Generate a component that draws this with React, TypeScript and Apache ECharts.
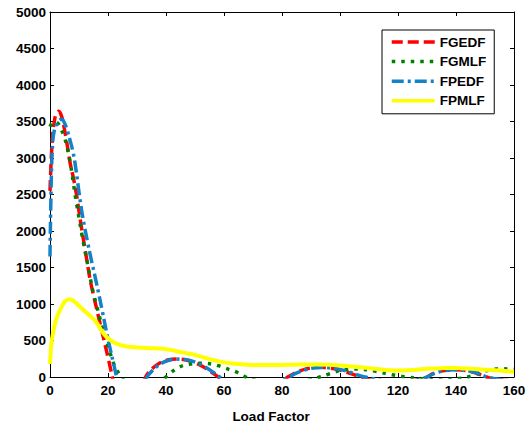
import React, { useEffect, useRef } from "react";
import * as echarts from "echarts";

const seriesNames = ["FGEDF", "FGMLF", "FPEDF", "FPMLF"];

const fgedfX = [0,0.5,1,1.5,2,3,4,5,6,7,8,9,10,11,12,13,14,16,18,20,21,22,24,28,31,33,34,36,38,40,42,44,46,48,50,52,54,56,58,60,70,80,82,84,86,88,90,92,94,96,98,100,102,104,106,108,118,128,130,132,134,136,138,140,142,144,146,148,150,152,160];
const fgedfY = [2550,3050,3350,3500,3590,3640,3570,3390,3160,2920,2740,2530,2270,2010,1770,1530,1300,950,610,270,90,-90,-400,-500,-250,0,60,140,195,228,242,245,240,222,195,158,112,58,0,-50,-150,-50,0,45,80,108,127,135,132,124,112,96,72,42,12,-20,-80,-30,0,45,72,88,97,100,96,84,64,38,10,-18,-60];

const fgmlfX = [0,0.5,1,1.5,2,3,4,5,6,7,8,9,10,11,12,13,14,15,16,18,20,22,24,25,27,33,38,40,42,44,46,48,50,52,54,56,58,60,62,64,66,67.5,70,80,90,93,96,98,100,102,104,106,108,110,112,114,116,118,120,122,123.5,126,135,141,144,146,148,150,152,154,156,158,160];
const fgmlfY = [3430,3470,3490,3500,3495,3460,3380,3280,3130,2930,2670,2410,2180,1950,1740,1540,1330,1140,990,690,430,180,30,-20,-150,-250,-40,0,70,125,158,176,186,188,185,175,155,128,100,73,35,0,-40,-100,-40,0,38,65,88,100,108,110,105,95,80,62,45,30,16,5,0,-15,-40,-20,0,25,55,80,100,110,112,110,106];

const fpedfX = [0,0.5,1,1.5,2,3,4,5,6,7,8,9,10,11,12,13,14,16,18,20,22,23,25,29,33.5,35,37,39,41,43,45,47,49,51,53,55,57,58.5,61,71,80,82.5,84,86,88,90,92,94,96,98,100,102,104,106,108.6,111,120,128,130,132,134,136,138,140,142,144,146,148,150.6,153,160];
const fpedfY = [1650,2800,3250,3380,3440,3510,3530,3480,3370,3230,3070,2830,2530,2260,2040,1840,1650,1290,910,520,170,0,-300,-500,0,75,150,200,230,243,245,238,218,188,148,100,45,0,-60,-150,-40,0,35,70,98,118,128,130,127,118,104,84,58,30,0,-20,-80,-25,0,40,68,86,96,100,96,86,68,42,0,-20,-60];

const fpmlfX = [0,0.3,0.6,1,1.5,2,3,4,5,6,6.5,7,8,9,10,12,14,16,18,20,22,24,26,28,30,34,38,40,42,44,48,52,56,60,64,68,72,76,80,84,88,92,96,100,104,108,112,116,120,124,128,132,136,140,144,148,152,156,160];
const fpmlfY = [180,380,500,590,690,770,880,960,1030,1058,1065,1062,1045,1012,975,900,830,750,620,530,475,440,420,410,403,395,390,382,368,350,320,280,235,200,180,168,164,163,165,168,172,172,168,158,143,130,112,97,88,92,105,115,122,122,115,105,95,85,72];

const xTicks = { min: 0, max: 160, interval: 20 };
const yTicks = { min: 0, max: 5000, interval: 500 };
const xTitle = "Load Factor";

const FONT = "'Liberation Sans', Arial, Helvetica, sans-serif";

function pairs(xs: number[], ys: number[]) {
  return xs.map((x, i) => [x, ys[i]]);
}

export default function App() {
  const ref = useRef<HTMLDivElement>(null);
  useEffect(() => {
    if (!ref.current) return;
    const chart = echarts.init(ref.current, null, { renderer: "svg" });
    const axisCommon = {
      type: "value",
      axisLine: { show: true, onZero: false, lineStyle: { color: "#000", width: 1 } },
      axisTick: { show: true, inside: true, length: 4, lineStyle: { color: "#000", width: 1 } },
      splitLine: { show: false },
    };
    const labelStyle = {
      color: "#000",
      fontWeight: "bold",
      fontSize: 13.5,
      fontFamily: FONT,
      formatter: (v: number) => String(v),
    };
    const lineSeries = (name: string, xs: number[], ys: number[], color: string, width: number, dash: any, z: number) => ({
      name,
      type: "line",
      data: pairs(xs, ys),
      showSymbol: false,
      symbol: "none",
      smooth: 0.4,
      clip: true,
      z,
      lineStyle: { color, width, type: dash, cap: "butt" },
      itemStyle: { color },
    });
    chart.setOption({
      animation: false,
      backgroundColor: "#fff",
      grid: { left: 50, right: 18, top: 12, bottom: 52, containLabel: false },
      xAxis: [
        { ...axisCommon, position: "bottom", ...xTicks, axisLabel: { ...labelStyle, margin: 6 } },
        { ...axisCommon, position: "top", ...xTicks, axisLabel: { show: false } },
      ],
      yAxis: [
        { ...axisCommon, position: "left", ...yTicks, axisLabel: { ...labelStyle, margin: 4 } },
        { ...axisCommon, position: "right", ...yTicks, axisLabel: { show: false } },
      ],
      legend: {
        orient: "vertical",
        left: 382,
        top: 30,
        itemWidth: 43,
        itemHeight: 14,
        itemGap: 5.6,
        padding: [5, 8, 6, 8],
        borderColor: "#000",
        borderWidth: 1,
        backgroundColor: "#fff",
        data: seriesNames,
        textStyle: { color: "#000", fontWeight: "bold", fontSize: 13.5, fontFamily: FONT },
        lineStyle: { width: 3.5 },
        itemStyle: { opacity: 0 },
      },
      graphic: [
        {
          type: "text",
          x: 271,
          y: 416,
          style: {
            text: xTitle,
            fill: "#000",
            font: `bold 13.5px ${FONT}`,
            textAlign: "center",
            textVerticalAlign: "middle",
          },
        },
      ],
      series: [
        lineSeries(seriesNames[0], fgedfX, fgedfY, "#ff0000", 3.5, [11, 5], 2),
        lineSeries(seriesNames[1], fgmlfX, fgmlfY, "#008000", 3.5, [3.5, 6], 3),
        lineSeries(seriesNames[2], fpedfX, fpedfY, "#1482c8", 3.5, [12, 4, 3, 4], 4),
        lineSeries(seriesNames[3], fpmlfX, fpmlfY, "#ffff00", 4, "solid", 5),
      ],
    });
    return () => chart.dispose();
  }, []);
  return (
    <div
      ref={ref}
      style={{ position: "fixed", left: 0, top: 0, width: 532, height: 429, background: "#fff" }}
    />
  );
}
